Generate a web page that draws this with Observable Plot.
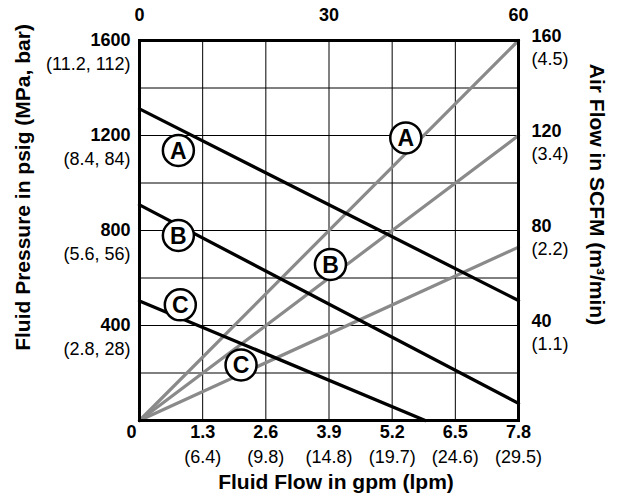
<!DOCTYPE html>
<html>
<head>
<meta charset="utf-8">
<script src="https://cdn.jsdelivr.net/npm/d3@7"></script>
<script src="https://cdn.jsdelivr.net/npm/@observablehq/plot@0.6"></script>
<style>
  html, body { margin: 0; padding: 0; background: #fff; }
  #chart svg { display: block; }
</style>
</head>
<body>
<div id="chart"></div>
<script>
// Bottom axis: fluid flow
const gpmTicks = [0, 1.3, 2.6, 3.9, 5.2, 6.5, 7.8];
const gpmLabels = ["1.3", "2.6", "3.9", "5.2", "6.5", "7.8"];
const lpmLabels = ["(6.4)", "(9.8)", "(14.8)", "(19.7)", "(24.6)", "(29.5)"];
// Left axis: fluid pressure
const psiTicks = [400, 800, 1200, 1600];
const psiGrid = [200, 400, 600, 800, 1000, 1200, 1400];
const mpaLabels = ["(2.8, 28)", "(5.6, 56)", "(8.4, 84)", "(11.2, 112)"];
// Right axis: air flow (SCFM)
const scfmTicks = [40, 80, 120, 160];
const m3Labels = ["(1.1)", "(2.2)", "(3.4)", "(4.5)"];
// Top axis
const topTicks = [0, 30, 60];
const topMax = 60;
const scfmMax = 160;
const psiMax = 1600;
const gpmMax = 7.8;

// Fluid pressure lines (black): gpm, psi
const pressureA = [[0, 1312], [7.8, 505]];
const pressureB = [[0, 908], [7.8, 72]];
const pressureC = [[0, 503], [5.88, 0]];
// Air flow lines (gray): gpm, psi-equivalent
const airA = [[0, 0], [7.8, 1600]];
const airB = [[0, 0], [7.8, 1200]];
const airC = [[0, 0], [7.8, 730]];

// Circle labels: gpm, psi
const pressureLabelPos = [["A", 0.80, 1137], ["B", 0.80, 779], ["C", 0.84, 487]];
const airLabelPos = [["A", 5.48, 1190], ["B", 3.93, 657], ["C", 2.09, 234]];

const toPts = (arr, s) => arr.map(([x, y]) => ({x, y, s}));
const pressureLines = [...toPts(pressureA, "A"), ...toPts(pressureB, "B"), ...toPts(pressureC, "C")];
const airLines = [...toPts(airA, "A"), ...toPts(airB, "B"), ...toPts(airC, "C")];
const circles = [...pressureLabelPos, ...airLabelPos].map(([t, x, y]) => ({t, x, y}));

const font = "'Liberation Sans', Arial, Helvetica, sans-serif";

const chart = Plot.plot({
  width: 617,
  height: 500,
  marginLeft: 139,
  marginRight: 99,
  marginTop: 40,
  marginBottom: 80,
  style: {fontFamily: font, background: "#fff"},
  x: {domain: [0, gpmMax], axis: null},
  y: {domain: [0, psiMax], axis: null},
  marks: [
    Plot.gridX(gpmTicks.slice(1, -1), {stroke: "#000", strokeOpacity: 1, strokeWidth: 1}),
    Plot.gridY(psiGrid, {stroke: "#000", strokeOpacity: 1, strokeWidth: 1}),
    Plot.line(airLines, {x: "x", y: "y", z: "s", stroke: "#8a8a8a", strokeWidth: 3.2}),
    Plot.line(pressureLines, {x: "x", y: "y", z: "s", stroke: "#000", strokeWidth: 3.3}),
    Plot.frame({stroke: "#000", strokeWidth: 3}),
    Plot.dot(circles, {x: "x", y: "y", r: 15.5, fill: "#fff", stroke: "#000", strokeWidth: 2.5}),
    Plot.text(circles, {x: "x", y: "y", text: "t", fontSize: 23, fontWeight: "bold", fill: "#000", dy: 1}),
    // bottom axis
    Plot.text(gpmLabels, {x: (d, i) => gpmTicks[i + 1], frameAnchor: "bottom", text: d => d, dy: 12, lineAnchor: "middle", fontSize: 18, fontWeight: "bold", fill: "#000"}),
    Plot.text(lpmLabels, {x: (d, i) => gpmTicks[i + 1], frameAnchor: "bottom", text: d => d, dy: 37, lineAnchor: "middle", fontSize: 18, fill: "#000"}),
    Plot.text(["0"], {x: 0, frameAnchor: "bottom", dx: -8, dy: 12, lineAnchor: "middle", fontSize: 18, fontWeight: "bold", fill: "#000"}),
    // left axis
    Plot.text(psiTicks, {y: d => d, frameAnchor: "left", text: d => String(d), dx: -9, textAnchor: "end", lineAnchor: "middle", fontSize: 18, fontWeight: "bold", fill: "#000"}),
    Plot.text(mpaLabels, {y: (d, i) => psiTicks[i], frameAnchor: "left", text: d => d, dx: -9, dy: 24, textAnchor: "end", lineAnchor: "middle", fontSize: 18, fill: "#000"}),
    // right axis
    Plot.text(scfmTicks, {y: d => d * psiMax / scfmMax, frameAnchor: "right", text: d => String(d), dx: 13, dy: -4, textAnchor: "start", lineAnchor: "middle", fontSize: 18, fontWeight: "bold", fill: "#000"}),
    Plot.text(m3Labels, {y: (d, i) => scfmTicks[i] * psiMax / scfmMax, frameAnchor: "right", text: d => d, dx: 13, dy: 19, textAnchor: "start", lineAnchor: "middle", fontSize: 18, fill: "#000"}),
    // top axis
    Plot.text(topTicks, {x: d => d * gpmMax / topMax, frameAnchor: "top", text: d => String(d), dy: -25, lineAnchor: "middle", fontSize: 18, fontWeight: "bold", fill: "#000"}),
    // axis titles
    Plot.text(["Fluid Flow in gpm (lpm)"], {frameAnchor: "bottom", dx: 7, dy: 62, textAnchor: "middle", lineAnchor: "middle", fontSize: 21, fontWeight: "bold", fill: "#000"}),
    Plot.text(["Fluid Pressure in psig (MPa, bar)"], {frameAnchor: "left", dx: -116, dy: -43, rotate: -90, textAnchor: "middle", lineAnchor: "middle", fontSize: 21, fontWeight: "bold", fill: "#000"}),
    Plot.text(["Air Flow in SCFM (m³/min)"], {frameAnchor: "right", dx: 78, dy: -36, rotate: 90, textAnchor: "middle", lineAnchor: "middle", fontSize: 21, fontWeight: "bold", fill: "#000"})
  ]
});
document.getElementById("chart").appendChild(chart);
</script>
</body>
</html>
